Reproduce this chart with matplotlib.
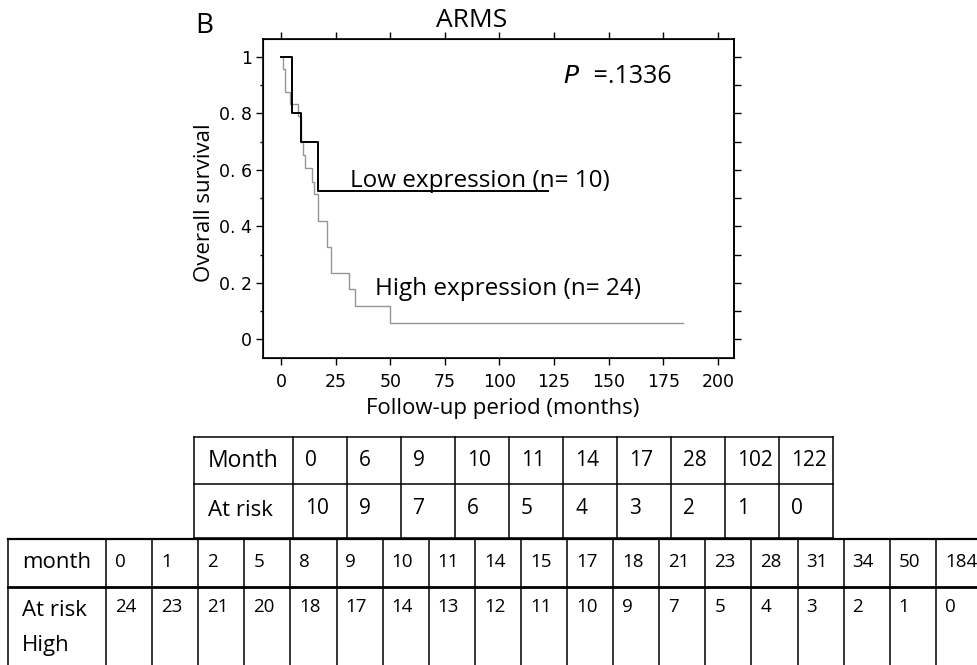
import numpy as np
import matplotlib
matplotlib.use('Agg')
import matplotlib.pyplot as plt

# Kaplan-Meier steps
low_t = [0, 5, 9, 17, 122]
low_s = [1.0, 0.8, 0.7, 0.525, 0.525]
high_t = [0, 1, 2, 4, 8, 9, 10, 11, 14, 15, 17, 21, 23, 31, 34, 50, 184]
high_s = [1.0, 0.958, 0.875, 0.833, 0.792, 0.70, 0.654, 0.607, 0.559, 0.515,
          0.418, 0.326, 0.236, 0.177, 0.118, 0.059, 0.059]

# at-risk tables
low_months = ['0', '6', '9', '10', '11', '14', '17', '28', '102', '122']
low_risk = ['10', '9', '7', '6', '5', '4', '3', '2', '1', '0']
high_months = ['0', '1', '2', '5', '8', '9', '10', '11', '14', '15', '17', '18',
               '21', '23', '28', '31', '34', '50', '184']
high_risk = ['24', '23', '21', '20', '18', '17', '14', '13', '12', '11', '10', '9',
             '7', '5', '4', '3', '2', '1', '0']

xticks = [0, 25, 50, 75, 100, 125, 150, 175, 200]
yticks = [0, 0.2, 0.4, 0.6, 0.8, 1.0]
ylabels = ['0', '0. 2', '0. 4', '0. 6', '0. 8', '1']

W, H = 978, 665
sans = ['Open Sans', 'DejaVu Sans']

fig = plt.figure(figsize=(W / 100, H / 100), dpi=100)

# main plot, placed in pixel terms
L, R, T, B = 263, 734, 39, 358
ax = fig.add_axes([L / W, 1 - B / H, (R - L) / W, (B - T) / H])
ax.step(high_t, high_s, where='post', color='#969696', lw=1.0)
ax.step(low_t, low_s, where='post', color='black', lw=1.4)
ax.set_xlim(-8.2, 207.3)
ax.set_ylim(-0.0655, 1.0637)

for s in ax.spines.values():
    s.set_linewidth(1.2)
ax.set_xticks(xticks)
ax.set_yticks(yticks)
ax.set_yticklabels(ylabels)
ax.set_yticks(np.arange(0.1, 1.0, 0.2), minor=True)
ax.tick_params(axis='x', direction='out', length=5, width=1, top=True,
               labelsize=12.5, pad=6)
ax.tick_params(axis='y', which='major', direction='out', length=5, width=1,
               labelsize=12.5, pad=3)
ax.tick_params(axis='y', which='minor', direction='out', length=2.5, width=1)

ax2 = ax.twinx()
ax2.set_ylim(ax.get_ylim())
ax2.set_yticks(np.arange(0, 1.01, 0.1))
ax2.tick_params(axis='y', direction='out', length=5, width=1, labelright=False)
ax2.spines['right'].set_linewidth(1.2)

ax.text(31.6, 0.54, 'Low expression (n= 10)', fontsize=17.5, family=sans)
ax.text(43, 0.157, 'High expression (n= 24)', fontsize=17.5, family=sans)
ax.text(129, 0.908, '$\\it{P}$', fontsize=18, family=sans)
ax.text(140, 0.908, ' =.1336', fontsize=18, family=sans)

fig.text(472 / W, 1 - 27 / H, 'ARMS', ha='center', va='baseline',
         fontsize=19, family=sans)
fig.text(195 / W, 1 - 33 / H, 'B', ha='left', va='baseline',
         fontsize=20, family=sans)
fig.text(503 / W, 1 - 414 / H, 'Follow-up period (months)', ha='center',
         va='baseline', fontsize=16, family=sans)
fig.text(205 / W, 1 - 203 / H, 'Overall survival', ha='center', va='center',
         rotation=90, fontsize=16, family=sans)

# tables drawn in pixel coordinates on an overlay
tab = fig.add_axes([0, 0, 1, 1])
tab.set_xlim(0, W)
tab.set_ylim(H, 0)
tab.axis('off')

# low expression table
x0, c0, cw = 194, 99, 54.0
rows = [437, 484, 538]
edges = [x0] + [x0 + c0 + cw * k for k in range(len(low_months) + 1)]
for e in edges:
    tab.plot([e, e], [rows[0], rows[-1]], color='black', lw=1.1)
for r in rows:
    tab.plot([edges[0], edges[-1]], [r, r], color='black', lw=1.1)
tab.text(x0 + 14, 461, 'Month', va='center', fontsize=16.5, family=sans)
tab.text(x0 + 14, 510, 'At risk', va='center', fontsize=16, family=sans)
for i, (m, n) in enumerate(zip(low_months, low_risk)):
    tab.text(edges[i + 1] + 12, 460, m, va='center', fontsize=15, family=sans)
    tab.text(edges[i + 1] + 12, 508, n, va='center', fontsize=15, family=sans)

# high expression table
x0, c0, cw = 8, 98, 46.1
edges = [x0] + [x0 + c0 + cw * k for k in range(len(high_months) + 1)]
for e in edges:
    tab.plot([e, e], [539, 700], color='black', lw=1.1)
tab.plot([edges[0], edges[-1]], [539, 539], color='black', lw=1.6)
tab.plot([edges[0], edges[-1]], [587, 587], color='black', lw=2.0)
tab.text(x0 + 14, 562, 'month', va='center', fontsize=16, family=sans)
tab.text(x0 + 14, 611, 'At risk', va='center', fontsize=16, family=sans)
tab.text(x0 + 14, 646, 'High', va='center', fontsize=16, family=sans)
for i, (m, n) in enumerate(zip(high_months, high_risk)):
    tab.text(edges[i + 1] + 9, 562, m, va='center', fontsize=13.5, family=sans)
    tab.text(edges[i + 1] + 9, 607, n, va='center', fontsize=13.5, family=sans)

fig.savefig('out.png', dpi=100)
